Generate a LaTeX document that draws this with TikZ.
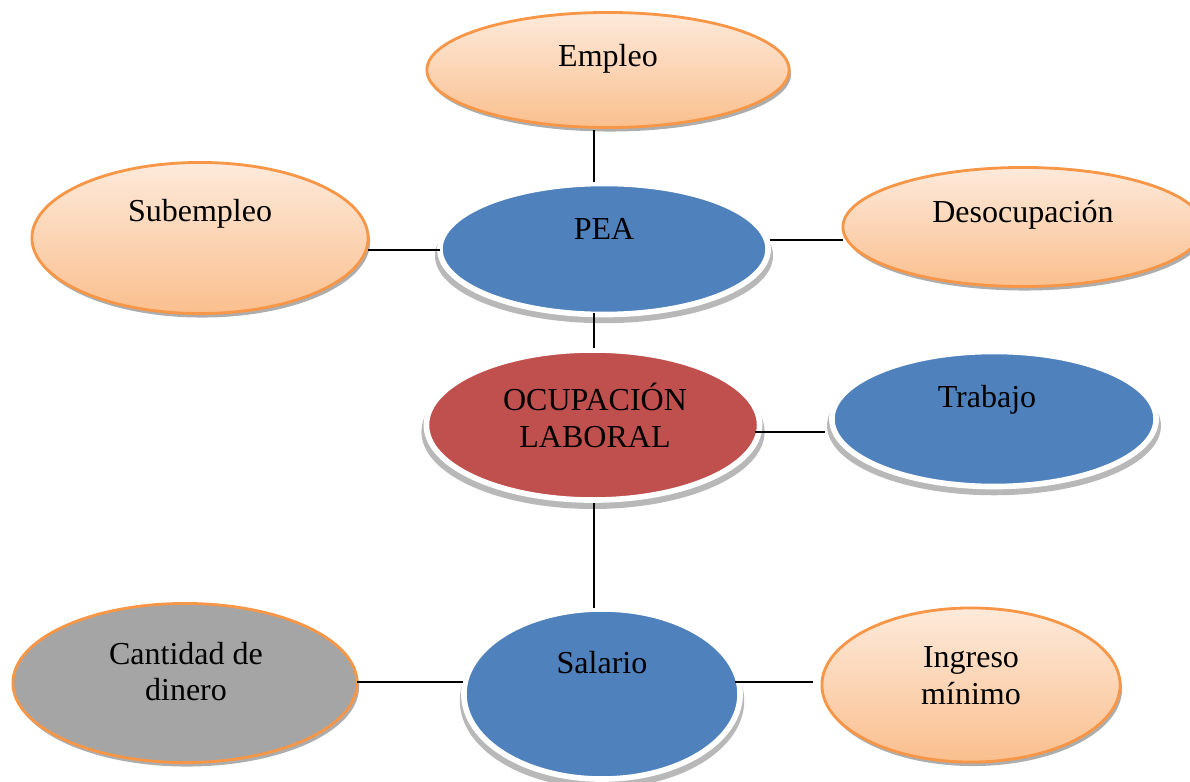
\documentclass[tikz,border=0pt]{standalone}
\usepackage{fontspec}
\setmainfont{Liberation Serif}
\usetikzlibrary{shapes.geometric,shadows}
\definecolor{orLine}{HTML}{F79646}
\definecolor{orTop}{HTML}{FDEADB}
\definecolor{orBot}{HTML}{FABF8E}
\definecolor{blueF}{HTML}{4F81BD}
\definecolor{redF}{HTML}{C0504D}
\definecolor{grayF}{HTML}{A5A5A5}
\begin{document}
\begin{tikzpicture}[x=0.01cm,y=-0.01cm,
  ell/.style={ellipse, inner sep=0pt},
  orell/.style={ell, draw=orLine, line width=0.8pt, top color=orTop, bottom color=orBot,
    drop shadow={shadow xshift=0.02cm, shadow yshift=-0.04cm, fill=black!32, opacity=1}},
  grell/.style={ell, draw=orLine, line width=0.8pt, fill=grayF,
    drop shadow={shadow xshift=0.02cm, shadow yshift=-0.04cm, fill=black!32, opacity=1}},
  ringell/.style={ell, draw=white, line width=1.6pt,
    drop shadow={shadow scale=1.03, shadow xshift=0cm, shadow yshift=-0.065cm, fill=black!28, opacity=1}},
  blueell/.style={ringell, fill=blueF},
  redell/.style={ringell, fill=redF},
  txt/.style={anchor=base, inner sep=0pt, font=\fontsize{9.1}{11}\selectfont},
  conn/.style={draw=black, line width=0.6pt}
]
\useasboundingbox (0,0) rectangle (1190,782);

% ellipses
\node[orell, minimum width=3.62cm, minimum height=1.15cm] (empleo) at (608,70) {};
\node[orell, minimum width=3.36cm, minimum height=1.51cm] (subempleo) at (200,238) {};
\node[orell, minimum width=3.60cm, minimum height=1.19cm] (desocup) at (1023,227) {};
\node[blueell, minimum width=3.28cm, minimum height=1.31cm] (pea) at (604,249) {};
\node[redell, minimum width=3.33cm, minimum height=1.50cm] (ocup) at (593,425) {};
\node[blueell, minimum width=3.24cm, minimum height=1.35cm] (trabajo) at (994,419) {};
\node[blueell, minimum width=2.76cm, minimum height=1.70cm] (salario) at (602,694) {};
\node[grell, minimum width=3.44cm, minimum height=1.59cm] (cantidad) at (185,683) {};
\node[orell, minimum width=2.98cm, minimum height=1.54cm] (ingreso) at (971,685) {};

% texts
\node[txt] (empleo-t) at (608,67) {Empleo};
\node[txt] (subempleo-t) at (200,222) {Subempleo};
\node[txt] (desocup-t) at (1023,223) {Desocupación};
\node[txt] (pea-t) at (604,240) {PEA};
\node[txt] (ocup-t1) at (595,411) {OCUPACIÓN};
\node[txt] (ocup-t2) at (595,448) {LABORAL};
\node[txt] (trabajo-t) at (987,408) {Trabajo};
\node[txt] (salario-t) at (602,673) {Salario};
\node[txt] (cantidad-t1) at (186,664) {Cantidad de};
\node[txt] (cantidad-t2) at (186,700) {dinero};
\node[txt] (ingreso-t1) at (971,668) {Ingreso};
\node[txt] (ingreso-t2) at (971,704) {mínimo};

% connector ends
\coordinate (a1) at (594,130); \coordinate (a2) at (594,182);
\coordinate (b1) at (368,250); \coordinate (b2) at (440,250);
\coordinate (c1) at (770,240); \coordinate (c2) at (843,240);
\coordinate (d1) at (594,313); \coordinate (d2) at (594,348);
\coordinate (e1) at (755,432); \coordinate (e2) at (825,432);
\coordinate (f1) at (594,503); \coordinate (f2) at (594,608);
\coordinate (g1) at (357,682); \coordinate (g2) at (463,682);
\coordinate (h1) at (735,682); \coordinate (h2) at (813,682);

\draw[conn] (a1) -- (a2);
\draw[conn] (b1) -- (b2);
\draw[conn] (c1) -- (c2);
\draw[conn] (d1) -- (d2);
\draw[conn] (e1) -- (e2);
\draw[conn] (f1) -- (f2);
\draw[conn] (g1) -- (g2);
\draw[conn] (h1) -- (h2);
\end{tikzpicture}
\end{document}
